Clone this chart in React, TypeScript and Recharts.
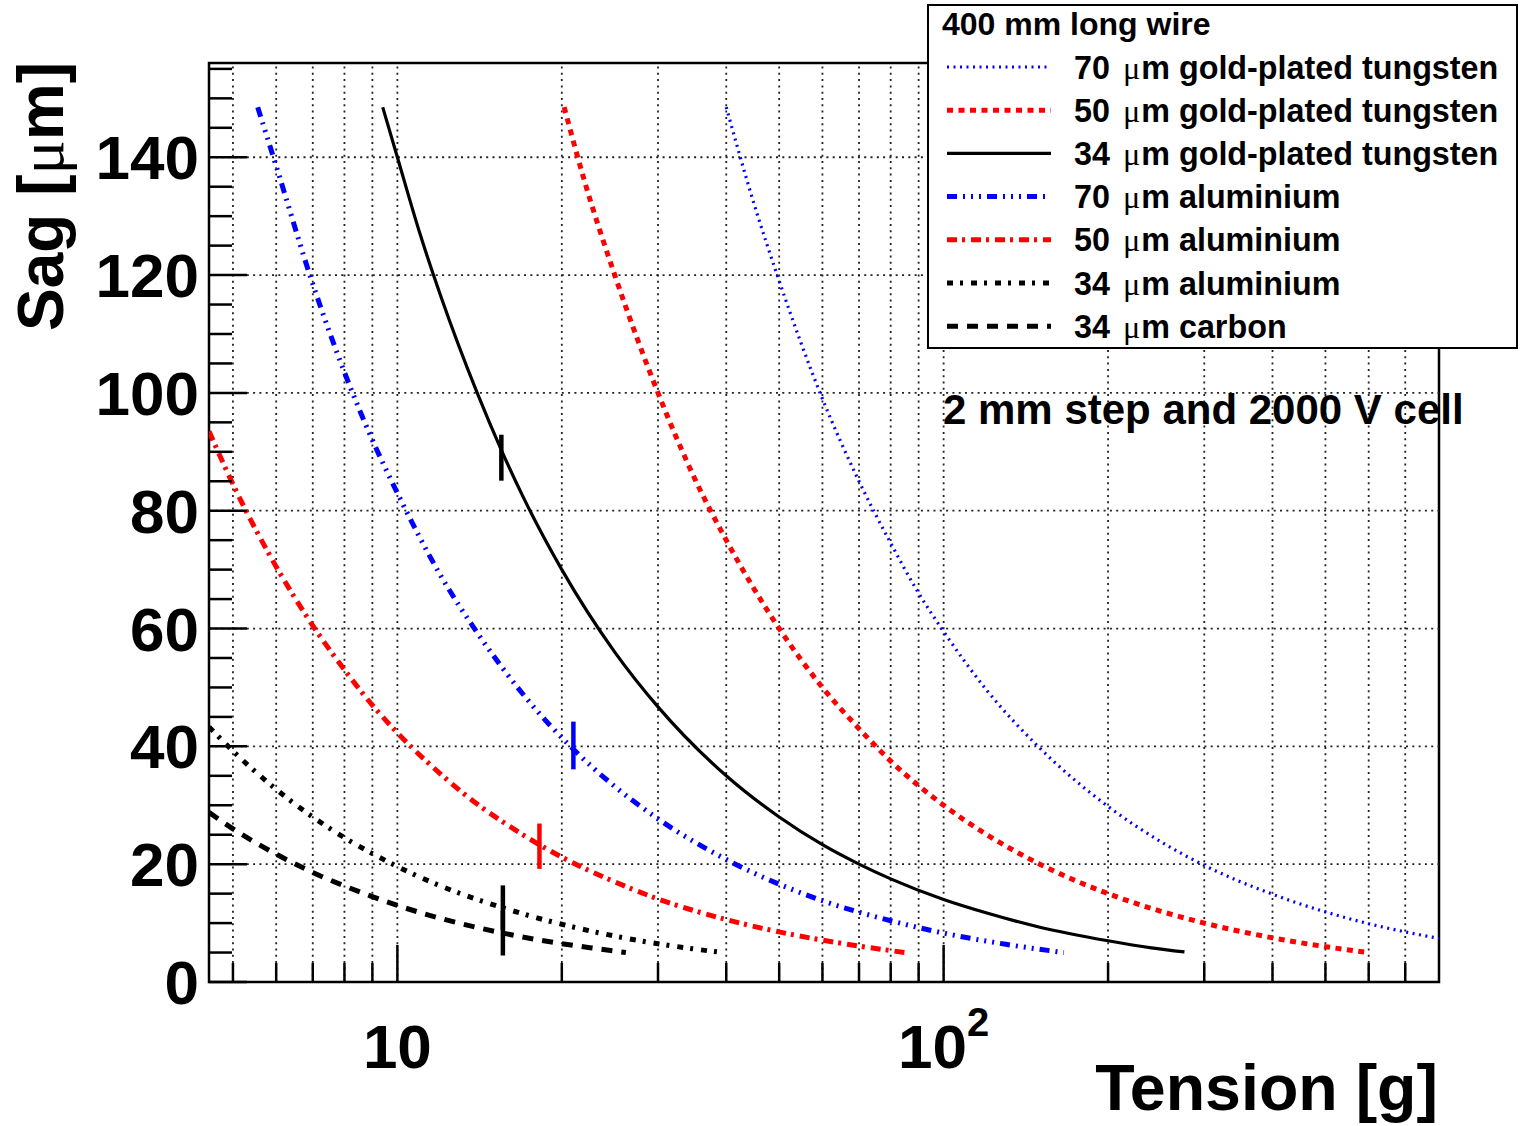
import { LineChart, Line, XAxis, YAxis, ReferenceLine, ReferenceArea, Legend } from "recharts";

const FONT = '"Liberation Sans", Arial, Helvetica, sans-serif';
const SYMBOL = '"Liberation Serif", "DejaVu Serif", serif';

// tension [g] and sag [um]
const tungsten70T = [40, 45, 50, 60, 70, 80, 90, 100, 120, 150, 200, 250, 300, 400, 500, 600, 700, 807];
const tungsten70S = [148.5, 132, 119, 99, 85, 74.5, 66, 59.5, 49.5, 39.7, 29.8, 23.8, 19.8, 14.9, 11.9, 9.9, 8.5, 7.4];

const tungsten50T = [20.2, 22, 25, 30, 35, 40, 50, 60, 70, 80, 100, 120, 150, 200, 250, 300, 400, 500, 600];
const tungsten50S = [148.5, 136, 120, 100, 85.5, 75, 60, 50, 43, 37.5, 30, 25, 20, 15, 12, 10, 7.5, 6, 5];

const tungsten34T = [9.4, 10, 11, 12, 14, 15.5, 17, 20, 25, 30, 40, 50, 60, 70, 80, 100, 120, 150, 200, 240, 276];
const tungsten34S = [148.5, 140, 127, 116.5, 100, 90.3, 82.3, 70, 56, 46.7, 35, 28, 23.3, 20, 17.5, 14, 11.7, 9.3, 7, 5.8, 5.1];

const alu70T = [5.55, 6, 7, 8, 9, 10, 12, 14, 17, 21, 25, 30, 40, 50, 60, 80, 100, 130, 166];
const alu70S = [148.5, 138.5, 118.5, 103.5, 92, 83, 69, 59.3, 48.8, 39.5, 33.2, 27.7, 20.8, 16.6, 13.8, 10.4, 8.3, 6.4, 5];

const alu50T = [4.52, 5, 6, 7, 8, 9, 10, 12, 14, 16, 18.2, 20, 25, 30, 40, 50, 60, 70, 85];
const alu50S = [93.5, 84.5, 70.5, 60.5, 53, 47, 42.3, 35.3, 30.2, 26.5, 23.3, 21.2, 17, 14.1, 10.6, 8.5, 7.1, 6.1, 5];

const alu34T = [4.52, 5, 6, 7, 8, 9, 10, 12, 15.6, 18, 20, 25, 30, 35, 39.4];
const alu34S = [43.3, 39.2, 32.7, 28, 24.5, 21.8, 19.6, 16.3, 12.6, 10.9, 9.8, 7.8, 6.5, 5.6, 5];

const carbon34T = [4.52, 5, 6, 7, 8, 9, 10, 12, 15.6, 18, 20, 23, 26.2];
const carbon34S = [28.8, 26, 21.7, 18.6, 16.3, 14.5, 13, 10.8, 8.3, 7.2, 6.5, 5.7, 5];

// short vertical markers on some curves
const markSeries = ["w34", "a70", "a50", "a34", "c34"];
const markT = [15.5, 21, 18.2, 15.6, 15.6];
const markLow = [85.1, 36.1, 19.2, 8.9, 4.5];
const markHigh = [92.9, 44.2, 26.9, 16.4, 12.1];

const xTicks = [5, 6, 7, 8, 9, 10, 20, 30, 40, 50, 60, 70, 80, 90, 100, 200, 300, 400, 500, 600, 700];
const xMajor = [10, 100];
const yTicks = [0, 5, 10, 15, 20, 25, 30, 35, 40, 45, 50, 55, 60, 65, 70, 75, 80, 85, 90, 95, 100, 105, 110, 115, 120, 125, 130, 135, 140, 145, 150, 155];
const yGrid = [20, 40, 60, 80, 100, 120, 140];

const X_DOMAIN: [number, number] = [4.52, 807];
const Y_DOMAIN: [number, number] = [0, 156];

const zip = (t: number[], s: number[]) => t.map((v, i) => ({ t: v, s: s[i] }));

const series = [
  { key: "w70", dia: "70", material: "gold-plated tungsten", color: "#0000ff", width: 3.2, dash: "2 4.5", data: zip(tungsten70T, tungsten70S) },
  { key: "w50", dia: "50", material: "gold-plated tungsten", color: "#ff0000", width: 5, dash: "6 5.5", data: zip(tungsten50T, tungsten50S) },
  { key: "w34", dia: "34", material: "gold-plated tungsten", color: "#000000", width: 3.2, dash: undefined, data: zip(tungsten34T, tungsten34S) },
  { key: "a70", dia: "70", material: "aluminium", color: "#0000ff", width: 5, dash: "10 6 2 6 2 6 2 6", data: zip(alu70T, alu70S) },
  { key: "a50", dia: "50", material: "aluminium", color: "#ff0000", width: 5, dash: "10 5 3 6", data: zip(alu50T, alu50S) },
  { key: "a34", dia: "34", material: "aluminium", color: "#000000", width: 5, dash: "6 7 3 8", data: zip(alu34T, alu34S) },
  { key: "c34", dia: "34", material: "carbon", color: "#000000", width: 5, dash: "11 9", data: zip(carbon34T, carbon34S) },
];

const colorOf = (key: string) => series.find((s) => s.key === key)?.color ?? "#000";

// ticks point into the frame, labels only on decades
function XTick({ x, y, payload }: any) {
  const v = payload.value;
  const major = xMajor.includes(v);
  return (
    <g>
      <line x1={x} x2={x} y1={y} y2={y - (major ? 37 : 19)} stroke="#000" strokeWidth={2.5} />
      {v === 10 && (
        <text x={x} y={y + 86} textAnchor="middle" fontFamily={FONT} fontWeight="bold" fontSize={62} fill="#000">
          10
        </text>
      )}
      {v === 100 && (
        <text x={x} y={y + 86} textAnchor="middle" fontFamily={FONT} fontWeight="bold" fontSize={62} fill="#000">
          <tspan>10</tspan>
          <tspan dy={-32} fontSize={40}>2</tspan>
        </text>
      )}
    </g>
  );
}

function YTick({ x, y, payload }: any) {
  const v = payload.value;
  const major = v % 20 === 0;
  return (
    <g>
      <line x1={x} x2={x + (major ? 38 : 23)} y1={y} y2={y} stroke="#000" strokeWidth={2.5} />
      {major && (
        <text x={x - 10} y={y + 22} textAnchor="end" fontFamily={FONT} fontWeight="bold" fontSize={62} fill="#000">
          {v}
        </text>
      )}
    </g>
  );
}

function WireLegend() {
  return (
    <svg width={592} height={346} style={{ display: "block" }}>
      <rect x={1} y={1} width={589} height={343} fill="#fff" stroke="#000" strokeWidth={2} />
      <text x={15} y={31} fontFamily={FONT} fontWeight="bold" fontSize={32} fill="#000">
        400 mm long wire
      </text>
      {series.map((s, i) => {
        const cy = 63 + i * 43.2;
        return (
          <g key={s.key}>
            <line x1={20} x2={124} y1={cy} y2={cy} stroke={s.color} strokeWidth={s.width} strokeDasharray={s.dash} />
            <text x={147} y={cy + 11.5} fontFamily={FONT} fontWeight="bold" fontSize={32.3} fill="#000">
              {s.dia}{" "}
              <tspan dx={4} fontFamily={SYMBOL} fontWeight="normal">μ</tspan>
              <tspan dx={1}>{"m " + s.material}</tspan>
            </text>
          </g>
        );
      })}
    </svg>
  );
}

export default function App() {
  return (
    <div style={{ position: "absolute", left: 0, top: 0, width: 1520, height: 1126, background: "#fff" }}>
      <LineChart width={1520} height={1126} margin={{ top: 63, right: 81, bottom: 143, left: 208 }}>
        <XAxis
          dataKey="t"
          type="number"
          scale="log"
          domain={X_DOMAIN}
          allowDataOverflow
          ticks={xTicks}
          interval={0}
          height={1}
          tickSize={0}
          tickMargin={0}
          axisLine={false}
          tickLine={false}
          tick={(p: any) => <XTick {...p} />}
        />
        <YAxis
          type="number"
          domain={Y_DOMAIN}
          allowDataOverflow
          ticks={yTicks}
          interval={0}
          width={1}
          tickSize={0}
          tickMargin={0}
          axisLine={false}
          tickLine={false}
          tick={(p: any) => <YTick {...p} />}
        />
        {xTicks.map((v) => (
          <ReferenceLine key={"gx" + v} x={v} stroke="#222" strokeWidth={1.8} strokeDasharray="2 4.3" />
        ))}
        {yGrid.map((v) => (
          <ReferenceLine key={"gy" + v} y={v} stroke="#222" strokeWidth={1.8} strokeDasharray="2 4.3" />
        ))}
        {series.map((s) => (
          <Line
            key={s.key}
            data={s.data}
            dataKey="s"
            type="monotone"
            stroke={s.color}
            strokeWidth={s.width}
            strokeDasharray={s.dash}
            dot={false}
            activeDot={false}
            isAnimationActive={false}
          />
        ))}
        {markT.map((t, i) => (
          <ReferenceLine
            key={"m" + i}
            segment={[{ x: t, y: markLow[i] }, { x: t, y: markHigh[i] }]}
            stroke={colorOf(markSeries[i])}
            strokeWidth={4.5}
          />
        ))}
        <ReferenceArea x1={X_DOMAIN[0]} x2={X_DOMAIN[1]} y1={Y_DOMAIN[0]} y2={Y_DOMAIN[1]} fill="none" stroke="#000" strokeWidth={2.5} />
        <Legend
          layout="vertical"
          align="center"
          verticalAlign="middle"
          wrapperStyle={{ left: 927, top: 4, width: 592, height: 346 }}
          content={() => <WireLegend />}
        />
      </LineChart>
      <svg width={1520} height={1126} style={{ position: "absolute", left: 0, top: 0, pointerEvents: "none" }}>
        <text x={943} y={424} fontFamily={FONT} fontWeight="bold" fontSize={42} fill="#000">
          2 mm step and 2000 V cell
        </text>
        <text x={1438} y={1110} textAnchor="end" fontFamily={FONT} fontWeight="bold" fontSize={64.5} fill="#000">
          Tension [g]
        </text>
        <text x={63} y={62} transform="rotate(-90 63 62)" textAnchor="end" fontFamily={FONT} fontWeight="bold" fontSize={64} fill="#000">
          Sag [<tspan fontFamily={SYMBOL} fontWeight="normal">μ</tspan>m]
        </text>
      </svg>
    </div>
  );
}
